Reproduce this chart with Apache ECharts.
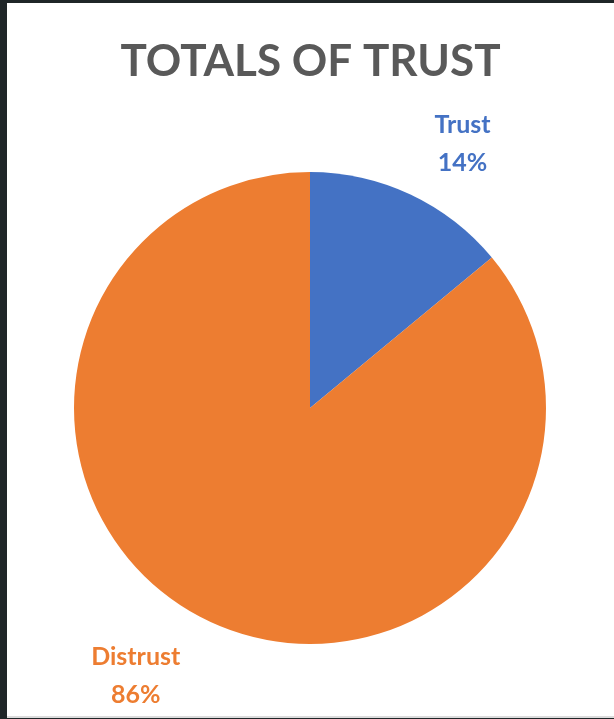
<!DOCTYPE html>
<html><head><meta charset="utf-8">
<script src="https://cdn.jsdelivr.net/npm/echarts@6/dist/echarts.min.js"></script>
<style>
html,body{margin:0;padding:0;background:#1f2628;width:614px;height:719px;overflow:hidden}
#wrap{position:absolute;left:7px;top:3px;width:607px;height:713px;background:#fff;border-bottom:2px solid #dcdcdc}
#chart{width:607px;height:713px}
</style></head>
<body><div id="wrap"><div id="chart"></div></div>
<script>
const title = 'TOTALS OF TRUST';
const categories = ['Trust', 'Distrust'];
const values = [14, 86];
const colors = ['#4472C4', '#ED7D31'];

const CX = 303, CY = 405, R = 236;
// label placement: distance from centre and angle (deg clockwise from 12 o'clock)
const labelDist = [305, 320];
const labelAngle = [30, 213];

const chart = echarts.init(document.getElementById('chart'), null, {renderer: 'canvas'});
chart.setOption({
  backgroundColor: '#ffffff',
  animation: false,
  title: {
    text: title, left: 'center', top: 32,
    textStyle: {fontFamily: 'Lato', fontSize: 44, fontWeight: 'bold', color: '#595959'}
  },
  series: [{
    type: 'pie',
    center: [CX, CY],
    radius: R,
    startAngle: 90,
    clockwise: true,
    data: categories.map((c, i) => ({name: c, value: values[i], itemStyle: {color: colors[i]}})),
    label: {
      show: true,
      position: 'outside',
      formatter: '{a|{b}}\n{a|{d}%}',
      color: 'inherit',
      rich: {
        a: {fontFamily: 'Lato', fontSize: 25, fontWeight: 'bold', lineHeight: 38, align: 'center', color: 'inherit'}
      }
    },
    labelLine: {show: false},
    labelLayout: function (p) {
      const i = p.dataIndex;
      const a = labelAngle[i] * Math.PI / 180;
      return {
        x: CX + labelDist[i] * Math.sin(a),
        y: CY - labelDist[i] * Math.cos(a),
        align: 'center',
        verticalAlign: 'middle'
      };
    }
  }]
});
</script></body></html>
